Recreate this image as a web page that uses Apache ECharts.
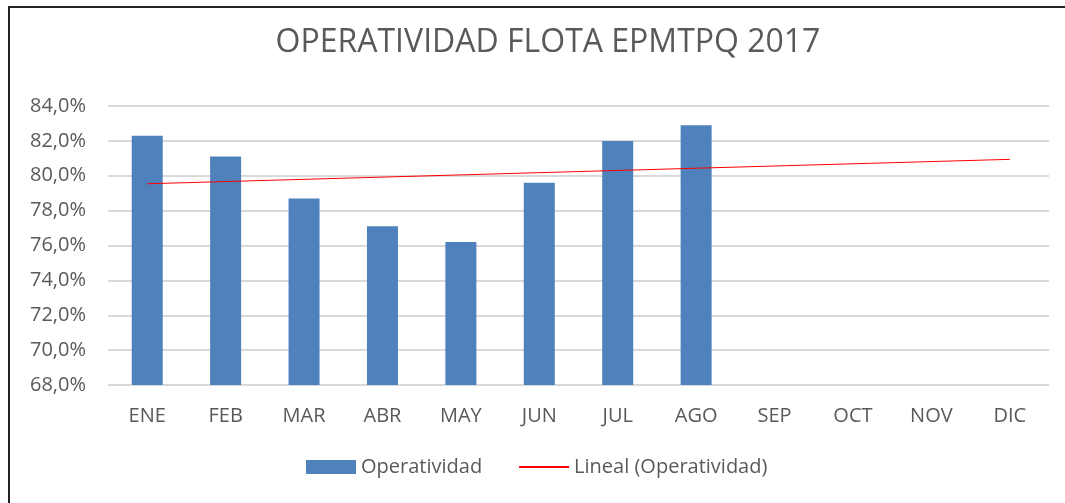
<!DOCTYPE html>
<html>
<head>
<meta charset="utf-8">
<script src="https://cdn.jsdelivr.net/npm/echarts@6/dist/echarts.min.js"></script>
<style>
  html, body { margin: 0; padding: 0; background: #fff; }
  #chart { width: 1065px; height: 503px; }
  .frame {
    position: absolute; left: 8px; top: 6px; width: 1200px; height: 600px;
    border-top: 2px solid #222; border-left: 2px solid #222;
    pointer-events: none;
  }
</style>
</head>
<body>
<div id="chart"></div>
<div class="frame"></div>
<script>
const months = ['ENE', 'FEB', 'MAR', 'ABR', 'MAY', 'JUN', 'JUL', 'AGO', 'SEP', 'OCT', 'NOV', 'DIC']
const operatividad = [82.3, 81.1, 78.7, 77.1, 76.2, 79.6, 82.0, 82.9]
// linear trend line, read at first and last month
const tendencia = [79.54, null, null, null, null, null, null, null, null, null, null, 80.94]

const font = 'Open Sans'
const txt = '#595959'

const chart = echarts.init(document.getElementById('chart'))
chart.setOption({
  animation: false,
  title: {
    text: 'OPERATIVIDAD FLOTA EPMTPQ 2017',
    left: 543,
    top: 22,
    textAlign: 'center',
    textStyle: { fontFamily: font, fontSize: 32, fontWeight: 'normal', color: txt }
  },
  legend: {
    bottom: 21,
    left: 301,
    itemWidth: 50,
    itemHeight: 14,
    itemGap: 36,
    textStyle: { fontFamily: font, fontSize: 20, color: txt },
    data: [
      { name: 'Operatividad', icon: 'rect' },
      { name: 'Lineal (Operatividad)', itemStyle: { opacity: 0 } }
    ]
  },
  grid: { left: 108, right: 16, top: 106, bottom: 118 },
  xAxis: {
    type: 'category',
    data: months,
    axisTick: { show: false },
    axisLine: { lineStyle: { color: '#d9d9d9' } },
    axisLabel: { fontFamily: font, fontSize: 20, color: txt, margin: 21 }
  },
  yAxis: {
    type: 'value',
    min: 68,
    max: 84,
    interval: 2,
    axisLine: { show: false },
    axisTick: { show: false },
    splitLine: { lineStyle: { color: '#d9d9d9', width: 2 } },
    axisLabel: {
      fontFamily: font, fontSize: 20, color: txt, margin: 22,
      formatter: v => v.toFixed(1).replace('.', ',') + '%'
    }
  },
  series: [
    {
      name: 'Operatividad',
      type: 'bar',
      data: operatividad,
      barWidth: 31,
      itemStyle: { color: '#4f81bd' }
    },
    {
      name: 'Lineal (Operatividad)',
      type: 'line',
      data: tendencia,
      connectNulls: true,
      symbol: 'none',
      lineStyle: { color: '#ff0000', width: 1 },
      itemStyle: { color: '#ff0000' }
    }
  ]
})
</script>
</body>
</html>
